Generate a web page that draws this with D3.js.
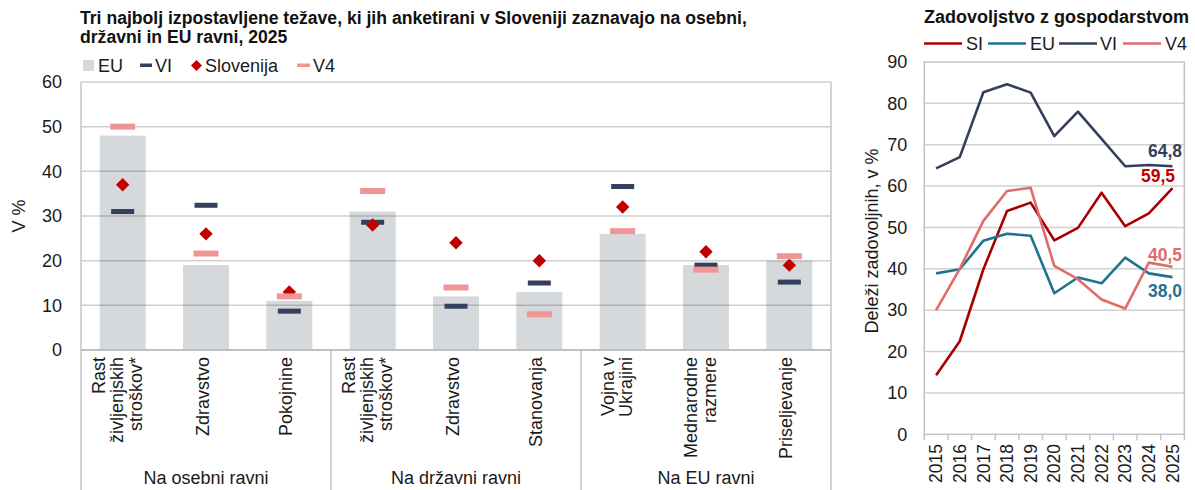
<!DOCTYPE html>
<html><head><meta charset="utf-8">
<script src="https://cdn.jsdelivr.net/npm/d3@7"></script>
<style>
body{margin:0;background:#fff;}
svg{display:block;font-family:"Liberation Sans",Arial,sans-serif;}
</style></head>
<body><svg id="c" width="1195" height="490"></svg>
<script>
// ---- Left chart data ----
const categoryLines = [["Rast","življenjskih","stroškov*"],["Zdravstvo"],["Pokojnine"],
  ["Rast","življenjskih","stroškov*"],["Zdravstvo"],["Stanovanja"],
  ["Vojna v","Ukrajini"],["Mednarodne","razmere"],["Priseljevanje"]];
const groups = ["Na osebni ravni","Na državni ravni","Na EU ravni"];
const euValues = [48,19,11,31,12,13,26,19,20];
const viValues = [31,32.4,8.7,28.6,9.8,15,36.6,19,15.2];
const sloValues = [37,26,13,28,24,20,32,22,19];
const v4Values = [50,21.6,12,35.6,14,8,26.6,18,21];
const leftTicks = [0,10,20,30,40,50,60];

// ---- Right chart data ----
const years = ["2015","2016","2017","2018","2019","2020","2021","2022","2023","2024","2025"];
const siLine = [14.3,22.5,39.9,54.0,56.0,46.9,49.9,58.4,50.3,53.4,59.5];
const euLine = [38.9,39.9,46.8,48.5,48.0,34.1,37.9,36.5,42.7,38.9,38.0];
const viLine = [64.3,67.0,82.7,84.6,82.6,72.1,78.0,71.4,64.8,65.1,64.8];
const v4Line = [30.0,40.0,51.6,58.8,59.6,40.7,37.5,32.6,30.4,41.5,40.5];
const rightTicks = [0,10,20,30,40,50,60,70,80,90];

const svg = d3.select("#c");
const FONT = 18;
const txt = "#1a1a1a";
const gridC = "#d0d0d0";
const borderC = "#c4c4c4";
const C = {eu:"#d6d9dc", vi:"#333f5c", slo:"#c00000", v4:"#f19496",
  lSI:"#a80000", lEU:"#1f7391", lVI:"#333f5c", lV4:"#e06b6b"};

// ================= LEFT CHART =================
const L = {x0:81, x1:831, y0:82, y1:350, bottom:490};
const idx = d3.range(euValues.length);
const xb = d3.scaleBand().domain(idx).range([L.x0, L.x1]).paddingInner(0.448).paddingOuter(0.224);
const yl = d3.scaleLinear().domain([0,60]).range([L.y1, L.y0]);
const cx = i => xb(i) + xb.bandwidth()/2;

// title
const t1 = svg.append("text").attr("font-weight","bold").attr("font-size",17.6).attr("fill","#111");
t1.append("tspan").attr("x",80).attr("y",24).text("Tri najbolj izpostavljene težave, ki jih anketirani v Sloveniji zaznavajo na osebni,");
t1.append("tspan").attr("x",80).attr("y",42.5).text("državni in EU ravni, 2025");

// legend
const lg = svg.append("g").attr("font-size",FONT).attr("fill",txt);
lg.append("rect").attr("x",83).attr("y",60).attr("width",11).attr("height",11).attr("fill",C.eu);
lg.append("text").attr("x",98).attr("y",71.5).text("EU");
lg.append("rect").attr("x",140).attr("y",63.5).attr("width",12).attr("height",3.5).attr("fill",C.vi);
lg.append("text").attr("x",155).attr("y",71.5).text("VI");
lg.append("path").attr("d",d3.symbol(d3.symbolSquare,60)()).attr("transform","translate(196.5,65.5) rotate(45)").attr("fill",C.slo);
lg.append("text").attr("x",205).attr("y",71.5).text("Slovenija");
lg.append("rect").attr("x",297).attr("y",63.5).attr("width",13).attr("height",3.5).attr("fill",C.v4);
lg.append("text").attr("x",313).attr("y",71.5).text("V4");

// bars
svg.append("g").selectAll("rect").data(idx).join("rect")
  .attr("x", i=>xb(i)).attr("width", xb.bandwidth())
  .attr("y", i=>yl(euValues[i])).attr("height", i=>yl(0)-yl(euValues[i]))
  .attr("fill", C.eu);

// gridlines (drawn over bars, semi-transparent)
svg.append("g").selectAll("line").data(leftTicks.filter(t=>t>0)).join("line")
  .attr("x1",L.x0).attr("x2",L.x1).attr("y1",d=>yl(d)).attr("y2",d=>yl(d))
  .attr("stroke","rgba(0,0,0,0.19)").attr("stroke-width",1.5);

// borders / separators
const bd = svg.append("g").attr("stroke",borderC).attr("stroke-width",1.5).attr("fill","none");
bd.append("line").attr("x1",L.x0).attr("x2",L.x0).attr("y1",L.y0).attr("y2",L.bottom);
bd.append("line").attr("x1",L.x1).attr("x2",L.x1).attr("y1",L.y0).attr("y2",L.bottom);
bd.append("line").attr("x1",L.x0).attr("x2",L.x1).attr("y1",L.y1).attr("y2",L.y1).attr("stroke","#bfbfbf").attr("stroke-width",2);
[3,6].forEach(k=>{
  const xs = xb(k) - xb.step()*xb.paddingInner()/2;
  bd.append("line").attr("x1",xs).attr("x2",xs).attr("y1",L.y1).attr("y2",L.bottom);
});

// y axis
const yAxisL = svg.append("g").attr("transform",`translate(${L.x0},0)`)
  .call(d3.axisLeft(yl).tickValues(leftTicks).tickSize(0).tickPadding(19));
yAxisL.select(".domain").remove();
yAxisL.selectAll("text").attr("font-size",FONT).attr("fill",txt).attr("font-family","Liberation Sans, Arial, sans-serif");
svg.append("text").attr("transform","translate(25,216) rotate(-90)").attr("text-anchor","middle")
  .attr("font-size",FONT).attr("fill",txt).text("V %");

// markers: VI, Slovenia, V4
svg.append("g").selectAll("rect").data(idx).join("rect")
  .attr("x", i=>cx(i)-11.5).attr("width",23).attr("y", i=>yl(viValues[i])-2.5).attr("height",5).attr("fill",C.vi);
svg.append("g").selectAll("path").data(idx).join("path")
  .attr("d", d3.symbol(d3.symbolSquare, 90)())
  .attr("transform", i=>`translate(${cx(i)},${yl(sloValues[i])}) rotate(45)`).attr("fill",C.slo);
svg.append("g").selectAll("rect").data(idx).join("rect")
  .attr("x", i=>cx(i)-12.5).attr("width",25).attr("y", i=>yl(v4Values[i])-3).attr("height",6).attr("fill",C.v4);

// category labels (rotated)
const LH = 18.5;
const cl = svg.append("g").attr("font-size",FONT).attr("fill",txt);
idx.forEach(i=>{
  const lines = categoryLines[i];
  const n = lines.length;
  lines.forEach((s,j)=>{
    const off = (j-(n-1)/2)*LH + (n===1?3:0.5);
    cl.append("text").attr("text-anchor","end")
      .attr("transform",`translate(${cx(i)+off},357) rotate(-90)`).text(s);
  });
});
// group labels
groups.forEach((g,k)=>{
  const gx = (cx(k*3)+cx(k*3+2))/2;
  svg.append("text").attr("x",gx).attr("y",484).attr("text-anchor","middle")
    .attr("font-size",FONT).attr("fill",txt).text(g);
});

// ================= RIGHT CHART =================
const R = {x0:924.3, x1:1184.3, y0:62, y1:434.3};
const xp = d3.scalePoint().domain(years).range([R.x0,R.x1]).padding(0.5);
const yr = d3.scaleLinear().domain([0,90]).range([R.y1,R.y0]);

svg.append("text").attr("x",924).attr("y",23).attr("font-weight","bold").attr("font-size",18).attr("fill","#111")
  .text("Zadovoljstvo z gospodarstvom");

const legR = [["SI",C.lSI,924,966],["EU",C.lEU,988,1030],["VI",C.lVI,1059,1100],["V4",C.lV4,1123,1165]];
legR.forEach(([name,col,lx,tx])=>{
  svg.append("line").attr("x1",lx).attr("x2",lx+38).attr("y1",43.5).attr("y2",43.5).attr("stroke",col).attr("stroke-width",2.5);
  svg.append("text").attr("x",tx).attr("y",50).attr("font-size",FONT).attr("fill",txt).text(name);
});

// grid
svg.append("g").selectAll("line").data(rightTicks.filter(t=>t>0&&t<90)).join("line")
  .attr("x1",R.x0).attr("x2",R.x1).attr("y1",d=>yr(d)).attr("y2",d=>yr(d))
  .attr("stroke",gridC).attr("stroke-width",1.5);
svg.append("rect").attr("x",R.x0).attr("y",R.y0).attr("width",R.x1-R.x0).attr("height",R.y1-R.y0)
  .attr("fill","none").attr("stroke",borderC).attr("stroke-width",1.5);

// y axis
const yAxisR = svg.append("g").attr("transform",`translate(${R.x0},0)`)
  .call(d3.axisLeft(yr).tickValues(rightTicks).tickSize(0).tickPadding(17));
yAxisR.select(".domain").remove();
yAxisR.selectAll("text").attr("font-size",FONT).attr("fill",txt).attr("font-family","Liberation Sans, Arial, sans-serif");
svg.append("text").attr("transform","translate(878,241) rotate(-90)").attr("text-anchor","middle")
  .attr("font-size",FONT).attr("fill",txt).text("Deleži zadovoljnih, v %");

// x ticks (boundaries)
const step = xp.step();
svg.append("g").selectAll("line").data(d3.range(years.length+1)).join("line")
  .attr("x1",k=>R.x0+k*step).attr("x2",k=>R.x0+k*step).attr("y1",R.y1).attr("y2",R.y1+6)
  .attr("stroke",borderC).attr("stroke-width",1.5);
svg.append("g").selectAll("text").data(years).join("text")
  .attr("text-anchor","end").attr("dy","0.35em")
  .attr("transform",d=>`translate(${xp(d)},444) rotate(-90)`)
  .attr("font-size",17.5).attr("fill",txt).text(d=>d);

// lines
const line = d3.line().x((d,i)=>xp(years[i])).y(d=>yr(d));
[[siLine,C.lSI],[euLine,C.lEU],[viLine,C.lVI],[v4Line,C.lV4]].forEach(([arr,col])=>{
  svg.append("path").datum(arr).attr("d",line).attr("fill","none").attr("stroke",col)
    .attr("stroke-width",2.6).attr("stroke-linejoin","round");
});

// end labels
const fmt = v => v.toFixed(1).replace(".",",");
const last = years.length-1;
[[viLine,C.lVI,157,1182],[siLine,C.slo,182,1175],[v4Line,C.lV4,261,1182],[euLine,C.lEU,297,1182]].forEach(([arr,col,y,x])=>{
  svg.append("text").attr("x",x).attr("y",y).attr("text-anchor","end").attr("font-weight","bold")
    .attr("font-size",17.5).attr("fill",col).text(fmt(arr[last]));
});
</script></body></html>
